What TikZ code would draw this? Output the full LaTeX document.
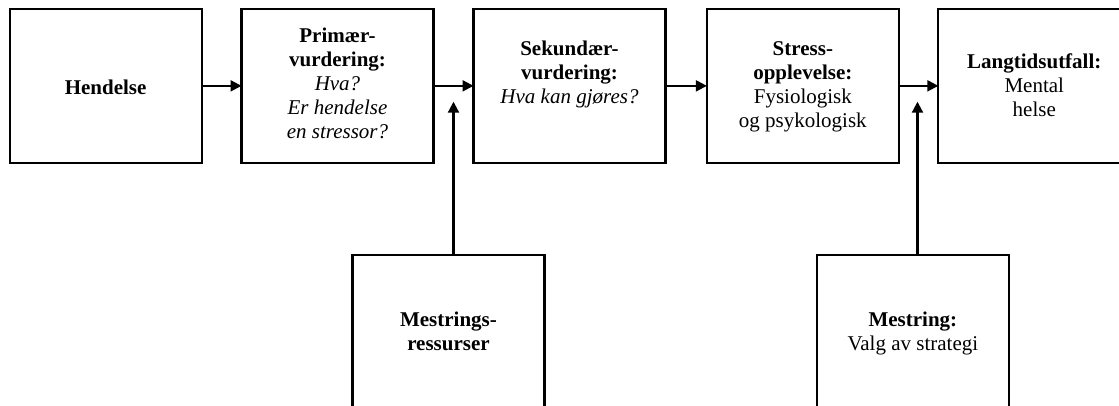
\documentclass[tikz,border=0pt]{standalone}
\usepackage{fontspec}
\setmainfont{Liberation Serif}
\usetikzlibrary{arrows.meta}
\begin{document}
\begin{tikzpicture}[x=1pt,y=-1pt,
  box/.style={draw,line width=2.1pt,rectangle,minimum width=192pt,minimum height=153.7pt,inner sep=0pt,outer sep=0pt},
  txt/.style={align=center,inner sep=0pt,font=\fontsize{21}{24}\selectfont},
  arr/.style={line width=2.1pt,-{Triangle[length=11pt,width=11pt]}}]
\useasboundingbox (0,0) rectangle (1119,405);
\clip (0,0) rectangle (1119,405);
\fill[white] (0,0) rectangle (1119,405);
% boxes
\node[box] (b1) at (105.6,85.85) {};
\node[box] (b2) at (337.5,85.85) {};
\node[box] (b3) at (569.5,85.85) {};
\node[box] (b4) at (802.85,85.85) {};
\node[box] (b5) at (1034.3,85.85) {};
\node[box] (r1) at (448.5,331.85) {};
\node[box] (r2) at (912.85,331.85) {};
% texts
\node[txt] (t1) at (105.6,87) {\textbf{Hendelse}};
\node[txt] (t2) at (337.5,83.5) {\textbf{Primær-}\\\textbf{vurdering:}\\\textit{Hva?}\\\textit{Er hendelse}\\\textit{en stressor?}};
\node[txt] (t3) at (569.5,74) {\textbf{Sekundær-}\\\textbf{vurdering:}\\\textit{Hva kan gjøres?}};
\node[txt] (t4) at (802.85,86.8) {\textbf{Stress-}\\\textbf{opplevelse:}\\Fysiologisk\\og psykologisk};
\node[txt] (t5) at (1034.3,85.3) {\textbf{Langtidsutfall:}\\Mental\\helse};
\node[txt] (tr1) at (448.5,331.7) {\textbf{Mestrings-}\\\textbf{ressurser}};
\node[txt] (tr2) at (912.85,333.7) {\textbf{Mestring:}\\Valg av strategi};
% connectors
\draw[arr] (b1) -- (b2);
\draw[arr] (b2) -- (b3);
\draw[arr] (b3) -- (b4);
\draw[arr] (b4) -- (b5);
\coordinate (m1) at (453.5,101.7);
\coordinate (m2) at (917.5,101.7);
\draw[arr] (r1.north -| m1) -- (m1);
\draw[arr] (r2.north -| m2) -- (m2);
\end{tikzpicture}
\end{document}
